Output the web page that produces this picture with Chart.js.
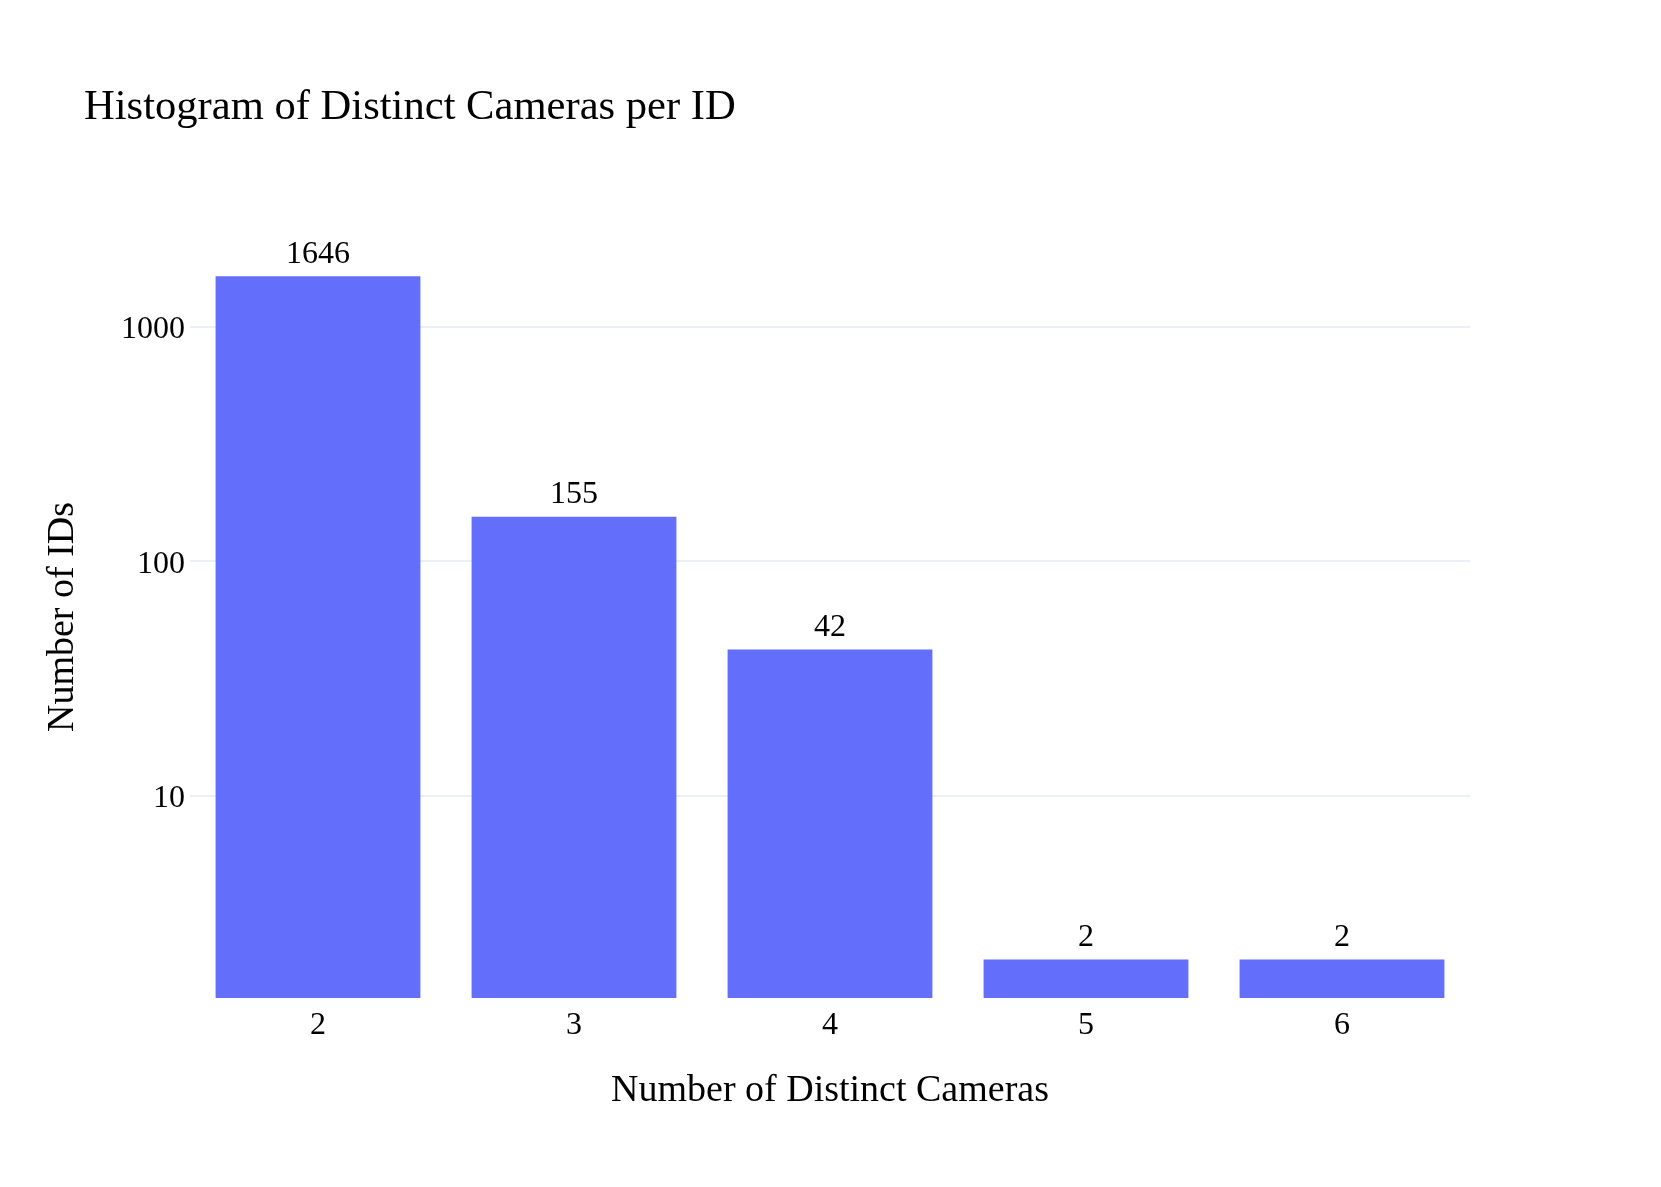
<!DOCTYPE html>
<html>
<head>
<meta charset="utf-8">
<script src="https://cdn.jsdelivr.net/npm/chart.js@4"></script>
<style>
  body { margin: 0; background: #fff; }
  #wrap { width: 1661px; height: 1187px; }
</style>
</head>
<body>
<div id="wrap"><canvas id="myChart" width="1661" height="1187"></canvas></div>
<script>
// chart data
const categories = ["2", "3", "4", "5", "6"];
const counts = [1646, 155, 42, 2, 2];
const yTicks = [10, 100, 1000];

const titleText = "Histogram of Distinct Cameras per ID";
const xTitle = "Number of Distinct Cameras";
const yTitle = "Number of IDs";

const serif = "'Liberation Serif', 'Times New Roman', serif";
Chart.defaults.font.family = serif;
Chart.defaults.color = "#000";

// titles + value labels drawn on top of the chart
const textPlugin = {
  id: "texts",
  afterDatasetsDraw(chart) {
    const c = chart.ctx;
    const area = chart.chartArea;
    c.save();
    c.fillStyle = "#000";

    // bar value labels
    c.font = "32px " + serif;
    c.textAlign = "center";
    c.textBaseline = "middle";
    chart.getDatasetMeta(0).data.forEach((bar, i) => {
      c.fillText(String(counts[i]), bar.x, bar.y - 22);
    });

    // main title
    c.font = "42.6px " + serif;
    c.textAlign = "left";
    c.textBaseline = "alphabetic";
    c.fillText(titleText, 84, 119);

    // x axis title
    c.font = "38px " + serif;
    c.textAlign = "center";
    c.fillText(xTitle, (area.left + area.right) / 2, 1101);

    // y axis title
    c.translate(63, 617);
    c.rotate(-Math.PI / 2);
    c.textBaseline = "middle";
    c.fillText(yTitle, 0, 0);
    c.restore();
  }
};

let ctx = document.getElementById("myChart").getContext("2d");

let myChart = new Chart(ctx, {
  type: "bar",
  data: {
    labels: categories,
    datasets: [
      {
        data: counts,
        backgroundColor: "#636efa",
        categoryPercentage: 0.8,
        barPercentage: 1.0,
      },
    ],
  },
  options: {
    responsive: false,
    animation: false,
    layout: { padding: { left: 0, right: 191, top: 238, bottom: 0 } },
    plugins: {
      legend: { display: false },
      title: { display: false },
      tooltip: { enabled: false },
    },
    scales: {
      x: {
        grid: { display: false, drawTicks: false },
        border: { display: false },
        ticks: { font: { size: 32 }, padding: 8, color: "#000" },
        afterFit(scale) { scale.height = 189; },
      },
      y: {
        type: "logarithmic",
        min: 1.369,
        max: 2399,
        grid: { color: "#ebf0f8", lineWidth: 2, drawTicks: false },
        border: { display: false },
        ticks: {
          font: { size: 32 },
          padding: 5,
          labelOffset: 3,
          color: "#000",
          callback: (v) => String(v),
        },
        afterBuildTicks(scale) {
          scale.ticks = yTicks.map((v) => ({ value: v }));
        },
        afterFit(scale) { scale.width = 190; },
      },
    },
  },
  plugins: [textPlugin],
});
</script>
</body>
</html>
